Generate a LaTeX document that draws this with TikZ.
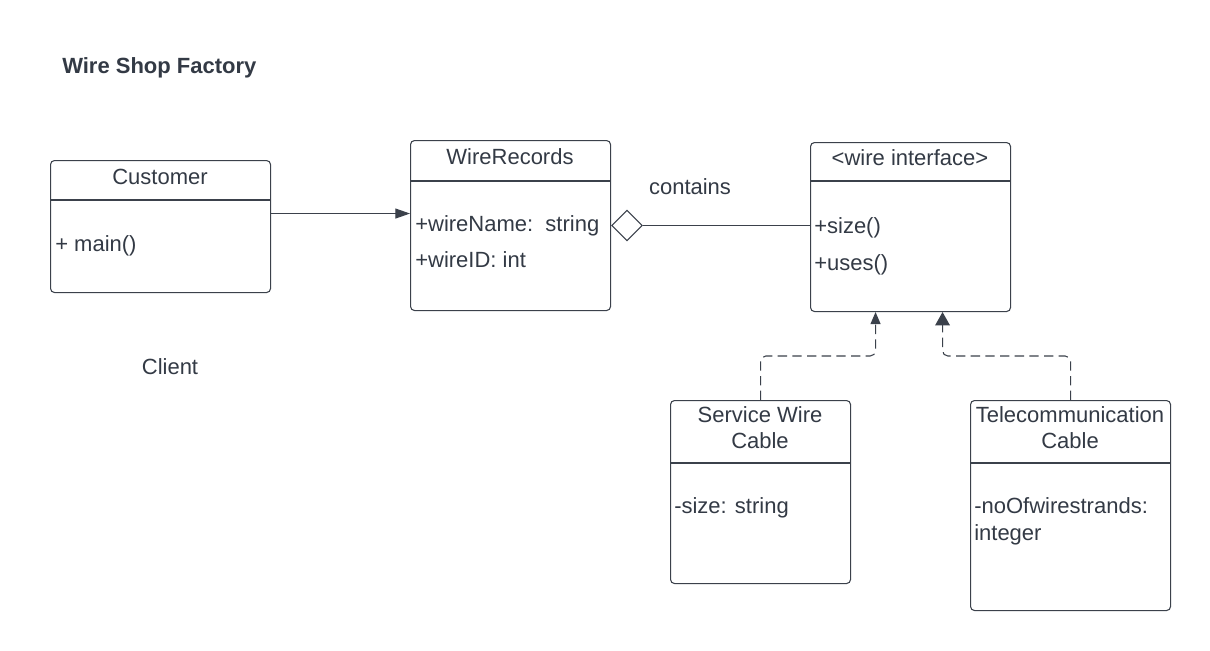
\documentclass[tikz,border=0pt]{standalone}
\usepackage{fontspec}
\setmainfont{Liberation Sans}
\usetikzlibrary{arrows.meta,shapes.geometric,calc}
\definecolor{ln}{HTML}{3B414B}
\definecolor{tx}{HTML}{333A45}
\tikzset{
  umlbox/.style={draw=ln, line width=0.8pt, rounded corners=3pt, anchor=north west, inner sep=0pt},
  sep/.style={draw=ln, line width=0.8pt},
  lbl/.style={text=tx, inner sep=0pt, font=\fontsize{16.5pt}{19.5pt}\selectfont},
  attr/.style={lbl, anchor=base west},
  conn/.style={draw=ln, line width=0.8pt},
  real/.style={conn, dash pattern=on 7pt off 4pt, rounded corners=4pt}
}
\begin{document}
\begin{tikzpicture}[x=0.75pt,y=-0.75pt]
\path[fill=white] (0,0) rectangle (1210,650);
\useasboundingbox (0,0) rectangle (1210,650);

\node[lbl, font=\fontsize{16.5pt}{19.5pt}\selectfont\bfseries, anchor=west] (title) at (62,68) {Wire Shop Factory};

% Customer
\node[umlbox, minimum width=165pt, minimum height=99pt] (cust) at (50,160) {};
\draw[sep] ([yshift=-30pt]cust.north west) -- ([yshift=-30pt]cust.north east);
\node[lbl] (custt) at (160,177) {Customer};
\node[attr] (custa) at (55,251) {+ main()};
\node[lbl] (client) at (170,367) {Client};

% WireRecords
\node[umlbox, minimum width=150pt, minimum height=127.5pt] (wr) at (410,140) {};
\draw[sep] ([yshift=-30.75pt]wr.north west) -- ([yshift=-30.75pt]wr.north east);
\node[lbl] (wrt) at (510,157) {WireRecords};
\node[attr] (wra) at (415,231) {+wireName:\ \ string};
\node[attr] (wrb) at (415,267) {+wireID: int};

% wire interface
\node[umlbox, minimum width=150pt, minimum height=126.75pt] (wi) at (810,142) {};
\draw[sep] ([yshift=-29.25pt]wi.north west) -- ([yshift=-29.25pt]wi.north east);
\node[lbl] (wit) at (910,158) {<wire interface>};
\node[attr] (wia) at (814,233) {+size()};
\node[attr] (wib) at (814,270) {+uses()};

% Service Wire Cable
\node[umlbox, minimum width=135pt, minimum height=137.25pt] (sw) at (670,400) {};
\draw[sep] ([yshift=-47.25pt]sw.north west) -- ([yshift=-47.25pt]sw.north east);
\node[lbl, align=center] (swt) at (760,428) {Service Wire\\Cable};
\node[attr] (swa) at (674,513) {-size: string};

% Telecommunication Cable
\node[umlbox, minimum width=150pt, minimum height=157.5pt] (tc) at (970,400) {};
\draw[sep] ([yshift=-47.25pt]tc.north west) -- ([yshift=-47.25pt]tc.north east);
\node[lbl, align=center] (tct) at (1070,428) {Telecommunication\\Cable};
\node[attr] (tca) at (974,513) {-noOfwirestrands:};
\node[attr] (tcb) at (974,540) {integer};

% Customer -> WireRecords
\coordinate (a1) at ([yshift=9.75pt]cust.east);
\draw[conn, -{Triangle[length=11pt,width=7.5pt]}] (a1) -- (a1 -| wr.west);

% aggregation
\node[draw=ln, line width=0.8pt, fill=white, diamond, aspect=1, minimum width=23pt, minimum height=23pt, inner sep=0pt, anchor=west] (dia) at (wr.east) {};
\draw[conn] (dia.east) -- (dia.east -| wi.west);
\node[lbl] (cont) at (690,187) {contains};

% realizations
\draw[real, -{Triangle[length=9pt,width=7.5pt,sharp]}] (sw.north) -- ++(0,-44) -| ([xshift=-26.25pt]wi.south);
\draw[real, -{Triangle[length=10pt,width=11pt,sharp]}] (tc.north) -- ++(0,-44) -| ([xshift=24pt]wi.south);
\end{tikzpicture}
\end{document}
